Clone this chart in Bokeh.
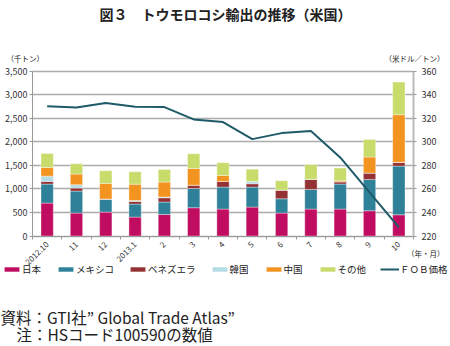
import math
from bokeh.plotting import figure
from bokeh.models import (Range1d, LinearAxis, FixedTicker, NumeralTickFormatter,
                          Legend, LegendItem, ColumnDataSource, Grid)
from bokeh.core.properties import value
from bokeh.embed import file_html
from bokeh.resources import INLINE

months = ["2012.10", "11", "12", "2013.1", "2", "3", "4", "5", "6", "7", "8", "9", "10"]
japan = [698, 486, 507, 401, 457, 599, 571, 613, 486, 571, 571, 535, 450]
mexico = [403, 466, 269, 276, 262, 410, 466, 424, 304, 417, 530, 665, 1033]
venezuela = [56, 64, 8, 56, 92, 70, 120, 71, 184, 212, 49, 134, 75]
korea = [113, 71, 0, 21, 15, 0, 0, 49, 0, 0, 0, 0, 5]
china = [184, 226, 330, 346, 317, 354, 127, 0, 0, 0, 22, 340, 1010]
other = [296, 219, 269, 262, 269, 311, 269, 261, 198, 318, 268, 375, 692]
fob = [330.0, 329.1, 332.8, 329.7, 329.4, 318.9, 316.7, 302.2, 307.3, 309.0, 286.7, 257.0, 227.4]

series_names = ["日本", "メキシコ", "ベネズエラ", "韓国", "中国", "その他"]
series_keys = ["japan", "mexico", "venezuela", "korea", "china", "other"]
fob_name = "ＦＯＢ価格"
left_ticks = [0, 500, 1000, 1500, 2000, 2500, 3000, 3500]
right_ticks = [220, 240, 260, 280, 300, 320, 340, 360]
colors = ["#C00D61", "#2E8199", "#933134", "#B4DCE6", "#F39420", "#C8DC6C"]
line_color = "#1F5A68"

FONT = "Noto Sans CJK JP"
TXT = "#222222"
W, H = 450, 346
n = len(months)
xs = [i + 0.5 for i in range(n)]

# plot area on the page (pixels): x 32..413, y 70.5..235.5
FX0, FX1, FY0, FY1 = 32.0, 413.0, 70.5, 235.5
LMIN, LMAX = left_ticks[0], left_ticks[-1]
RMIN, RMAX = right_ticks[0], right_ticks[-1]


def dx(px):
    return (px - FX0) / (FX1 - FX0) * n


def dy(py):
    return LMIN + (FY1 - py) / (FY1 - FY0) * (LMAX - LMIN)


def dyr(py):
    return RMIN + (FY1 - py) / (FY1 - FY0) * (RMAX - RMIN)


p = figure(width=W, height=H, output_backend="svg", toolbar_location=None,
           x_range=Range1d(dx(0), dx(W)), y_range=Range1d(dy(H), dy(0)), min_border=0)
p.extra_y_ranges = {"price": Range1d(dyr(H), dyr(0))}
p.outline_line_color = None

# grid lines limited to the plot area
p.xgrid.visible = False
g = p.ygrid[0]
g.ticker = FixedTicker(ticks=left_ticks)
g.grid_line_color = "#ABABAB"
g.grid_line_width = 1.5
if "cross_bounds" in g.properties():
    g.cross_bounds = (0, n)
else:
    g.visible = False
    p.segment(x0=[0] * len(left_ticks), x1=[n] * len(left_ticks), y0=left_ticks,
              y1=left_ticks, line_color="#ABABAB", line_width=1.5)

src = ColumnDataSource(dict(x=xs, japan=japan, mexico=mexico, venezuela=venezuela,
                            korea=korea, china=china, other=other))
bars = p.vbar_stack(series_keys, x="x", width=0.42, source=src, color=colors,
                    line_color="white", line_width=0.6, line_alpha=0.6)
ln = p.line(xs, fob, y_range_name="price", line_color=line_color, line_width=2)

# left axis
ya = p.yaxis[0]
ya.fixed_location = 0
ya.bounds = (LMIN, LMAX)
ya.ticker = FixedTicker(ticks=left_ticks)
ya.formatter = NumeralTickFormatter(format="0,0")
ya.major_label_text_font = FONT
ya.major_label_text_font_size = "9px"
ya.major_label_text_color = "#333333"
ya.axis_line_color = "#999999"
ya.major_tick_line_color = "#999999"
ya.major_tick_out = 3
ya.major_tick_in = 0
ya.minor_tick_out = 0
ya.minor_tick_in = 0
ya.major_label_standoff = 2

# right axis
ra = LinearAxis(y_range_name="price", ticker=FixedTicker(ticks=right_ticks))
ra.fixed_location = n
ra.bounds = (RMIN, RMAX)
ra.major_label_text_font = FONT
ra.major_label_text_font_size = "9px"
ra.major_label_text_color = "#333333"
ra.axis_line_color = "#BBBBBB"
ra.axis_line_width = 2
ra.major_tick_line_color = "#999999"
ra.major_tick_out = 3
ra.major_tick_in = 0
ra.minor_tick_out = 0
ra.minor_tick_in = 0
ra.major_label_standoff = 5
p.add_layout(ra, "right")

# bottom axis
xa = p.xaxis[0]
xa.fixed_location = LMIN
xa.bounds = (0, n)
xa.ticker = FixedTicker(ticks=xs, minor_ticks=list(range(0, n + 1)))
xa.major_label_overrides = {x: m for x, m in zip(xs, months)}
xa.major_label_orientation = math.pi / 4
xa.major_label_text_font = FONT
xa.major_label_text_font_size = "8px"
xa.major_label_text_color = "#333333"
xa.axis_line_color = "#999999"
xa.major_tick_out = 0
xa.major_tick_in = 0
xa.minor_tick_out = 3
xa.minor_tick_in = 0
xa.minor_tick_line_color = "#999999"
xa.major_label_standoff = 4

# legend
items = [LegendItem(label=nm, renderers=[r]) for nm, r in zip(series_names, bars)]
items.append(LegendItem(label=fob_name, renderers=[ln]))
leg = Legend(items=items, orientation="horizontal", location=(2, H - 276),
             glyph_width=19, glyph_height=6, label_standoff=1, spacing=14,
             label_text_font=FONT, label_text_font_size="9.5px", label_height=12,
             label_text_color=TXT, padding=0, margin=0, border_line_color=None,
             background_fill_alpha=0)
p.add_layout(leg, "center")


def txt(text, x, y, size, align="left", bold=False):
    p.text(x=[dx(x)], y=[dy(y)], text=[text], text_font=value(FONT), text_font_size=size,
           text_font_style="bold" if bold else "normal", text_align=align,
           text_baseline="middle", text_color=TXT)


txt("図３　トウモロコシ輸出の推移（米国）", 225, 13, "14px", "center", True)
txt("（千トン）", 6, 58, "7.5px")
txt("（米ドル／トン）", 444, 58, "7.5px", "right")
txt("（年・月）", 444, 253, "7.5px", "right")
txt("資料：GTI社” Global Trade Atlas”", 0, 316, "15.5px")
txt("注：HSコード100590の数値", 16, 333, "15.5px")

open("out.html", "w").write(file_html(p, INLINE))
